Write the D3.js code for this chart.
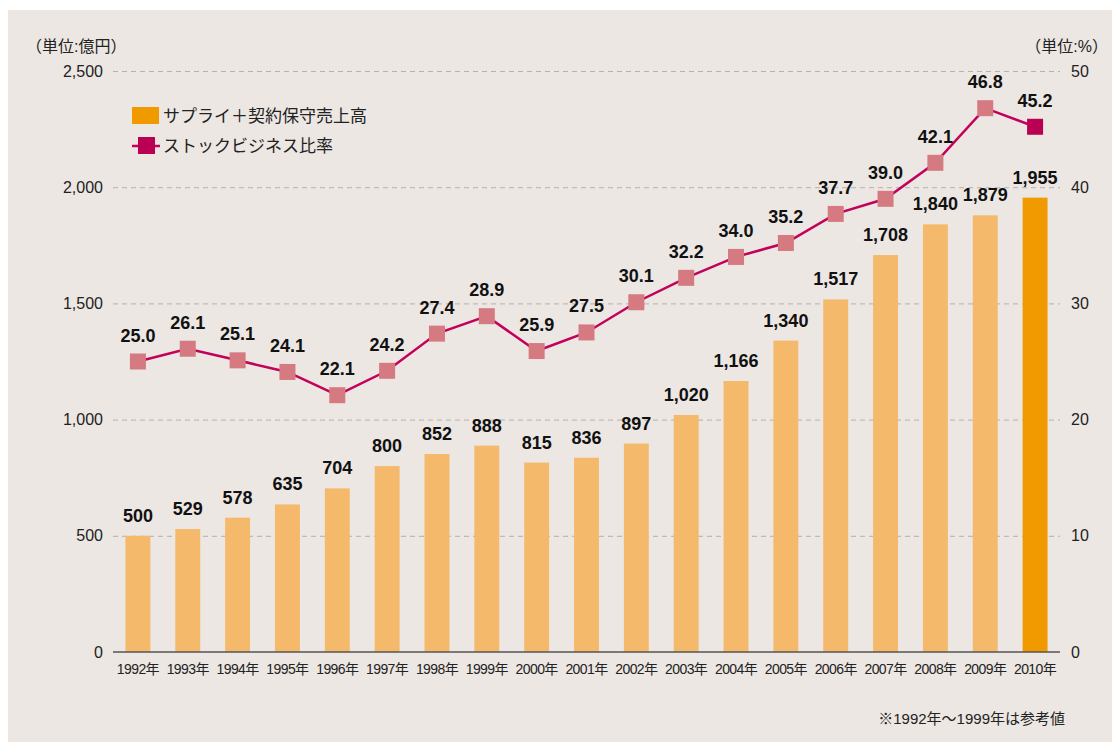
<!DOCTYPE html>
<html>
<head>
<meta charset="utf-8">
<script src="https://cdn.jsdelivr.net/npm/d3@7"></script>
<style>
  body { margin: 0; background: #fff; }
  svg text { font-family: "Liberation Sans", Arial, "Noto Sans CJK JP", sans-serif; }
</style>
</head>
<body>
<div id="chart"></div>
<script>
// data
var years = ["1992年","1993年","1994年","1995年","1996年","1997年","1998年","1999年","2000年","2001年",
             "2002年","2003年","2004年","2005年","2006年","2007年","2008年","2009年","2010年"];
var sales = [500,529,578,635,704,800,852,888,815,836,897,1020,1166,1340,1517,1708,1840,1879,1955];
var ratio = [25.0,26.1,25.1,24.1,22.1,24.2,27.4,28.9,25.9,27.5,30.1,32.2,34.0,35.2,37.7,39.0,42.1,46.8,45.2];
var leftTicks = [0,500,1000,1500,2000,2500];
var rightTicks = [0,10,20,30,40,50];

var W = 1112, H = 743;
var svg = d3.select("#chart").append("svg")
  .attr("width", W).attr("height", H);

// panel background
svg.append("rect").attr("x", 8).attr("y", 10).attr("width", W - 8).attr("height", 732)
  .attr("fill", "#ece7e3");

var x = d3.scaleBand().domain(years).range([113, 1060]).paddingInner(0.5).paddingOuter(0.25);
var y = d3.scaleLinear().domain([0, 2500]).range([652, 71]);
var y2 = d3.scaleLinear().domain([0, 50]).range([652, 71]);

// gridlines
svg.append("g").selectAll("line")
  .data(leftTicks.slice(1))
  .enter().append("line")
    .attr("x1", 113).attr("x2", 1060)
    .attr("y1", function(d) { return y(d) + 0.5; })
    .attr("y2", function(d) { return y(d) + 0.5; })
    .attr("stroke", "#b5b0ac").attr("stroke-width", 1)
    .attr("stroke-dasharray", "5,4");

// left axis labels
var yAxis = svg.append("g").attr("transform", "translate(113,0)")
  .call(d3.axisLeft(y).tickValues(leftTicks).tickSize(0).tickPadding(10).tickFormat(d3.format(",")));
yAxis.select(".domain").remove();
yAxis.selectAll("text").attr("font-size", 16).attr("fill", "#222");

// right axis labels
var yAxis2 = svg.append("g").attr("transform", "translate(1060,0)")
  .call(d3.axisRight(y2).tickValues(rightTicks).tickSize(0).tickPadding(11));
yAxis2.select(".domain").remove();
yAxis2.selectAll("text").attr("font-size", 16).attr("fill", "#222");

// bars
svg.append("g").selectAll("rect")
  .data(sales)
  .enter().append("rect")
    .attr("x", function(d, i) { return x(years[i]); })
    .attr("y", function(d) { return y(d); })
    .attr("width", x.bandwidth())
    .attr("height", function(d) { return y(0) - y(d); })
    .attr("fill", function(d, i) { return i == sales.length - 1 ? "#f09a00" : "#f5b96b"; });

// bar labels
svg.append("g").selectAll("text")
  .data(sales)
  .enter().append("text")
    .attr("x", function(d, i) { return x(years[i]) + x.bandwidth() / 2; })
    .attr("y", function(d) { return y(d) - 14; })
    .attr("text-anchor", "middle")
    .attr("font-size", 18).attr("font-weight", "bold").attr("fill", "#111")
    .text(function(d) { return d3.format(",")(d); });

// x axis
var xAxis = svg.append("g").attr("transform", "translate(0,652)")
  .call(d3.axisBottom(x).tickSize(0).tickPadding(12));
xAxis.select(".domain").attr("stroke", "#555").attr("stroke-width", 1.5)
  .attr("d", "M113,0H1060");
xAxis.selectAll("text").attr("font-size", 14).attr("fill", "#222").attr("letter-spacing", "-0.6");

// ratio line
var cx = function(d, i) { return x(years[i]) + x.bandwidth() / 2; };
var line = d3.line()
  .x(function(d, i) { return cx(d, i); })
  .y(function(d) { return y2(d); });
svg.append("path").datum(ratio)
  .attr("d", line).attr("fill", "none")
  .attr("stroke", "#c3005a").attr("stroke-width", 2.5);

var ms = 16;
svg.append("g").selectAll("rect")
  .data(ratio)
  .enter().append("rect")
    .attr("x", function(d, i) { return cx(d, i) - ms / 2; })
    .attr("y", function(d) { return y2(d) - ms / 2; })
    .attr("width", ms).attr("height", ms)
    .attr("fill", function(d, i) { return i == ratio.length - 1 ? "#ba0052" : "#d57a80"; });

svg.append("g").selectAll("text")
  .data(ratio)
  .enter().append("text")
    .attr("x", function(d, i) { return cx(d, i); })
    .attr("y", function(d) { return y2(d) - 20; })
    .attr("text-anchor", "middle")
    .attr("font-size", 18).attr("font-weight", "bold").attr("fill", "#111")
    .text(function(d) { return d.toFixed(1); });

// unit labels
svg.append("text").attr("x", 26).attr("y", 52).attr("font-size", 16).attr("fill", "#222")
  .text("（単位:億円）");
svg.append("text").attr("x", 1108).attr("y", 52).attr("font-size", 16).attr("fill", "#222")
  .attr("text-anchor", "end").text("（単位:%）");

// legend
var lg = svg.append("g");
lg.append("rect").attr("x", 132).attr("y", 107).attr("width", 27).attr("height", 17).attr("fill", "#f09a00");
lg.append("text").attr("x", 163).attr("y", 122).attr("font-size", 17).attr("fill", "#222")
  .text("サプライ＋契約保守売上高");
lg.append("line").attr("x1", 132).attr("x2", 160).attr("y1", 146).attr("y2", 146)
  .attr("stroke", "#c3005a").attr("stroke-width", 2.5);
lg.append("rect").attr("x", 138).attr("y", 137).attr("width", 17).attr("height", 17).attr("fill", "#ba0052");
lg.append("text").attr("x", 163).attr("y", 152).attr("font-size", 17).attr("fill", "#222")
  .text("ストックビジネス比率");

// footnote
svg.append("text").attr("x", 1065).attr("y", 724).attr("font-size", 15).attr("fill", "#222")
  .attr("text-anchor", "end").text("※1992年〜1999年は参考値");
</script>
</body>
</html>
